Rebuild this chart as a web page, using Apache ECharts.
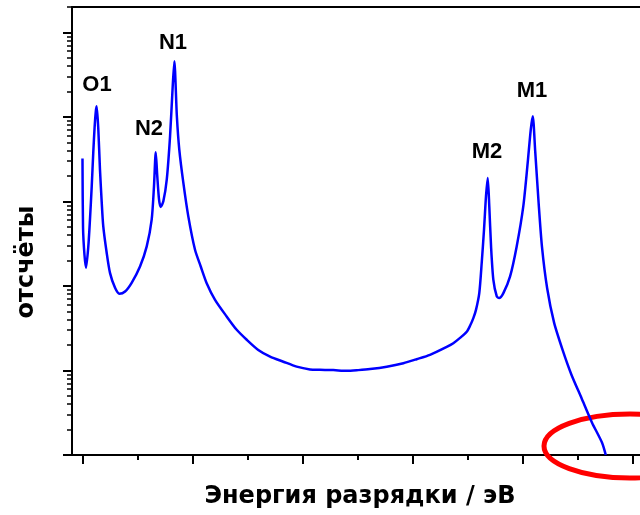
<!DOCTYPE html>
<html>
<head>
<meta charset="utf-8">
<script src="https://cdn.jsdelivr.net/npm/echarts@6/dist/echarts.min.js"></script>
<style>html,body{margin:0;padding:0;background:#fff}#c{width:640px;height:515px}</style>
</head>
<body>
<div id="c"></div>
<script>
// Energy (arbitrary units along the unlabelled axis)
var energy = [-0.02,0.03,0.16,0.30,0.51,0.66,0.82,0.96,1.08,1.19,1.27,1.42,1.57,1.73,1.87,2.18,2.48,2.94,3.33,3.85,4.45,5.21,5.82,6.27,6.48,6.64,6.78,6.94,7.09,7.33,7.64,7.94,8.15,8.33,8.56,8.78,9.15,9.60,10.21,10.73,11.27,12.03,13.09,14.0,14.91,15.96,17.03,18.24,19.45,20.66,21.57,22.78,24.0,25.05,26.12,27.64,29.15,30.36,31.57,33.09,33.69,34.30,34.91,35.21,35.51,35.75,36.05,36.27,36.48,36.66,36.82,36.96,37.12,37.33,37.64,37.85,38.24,38.85,39.45,40.05,40.45,40.73,40.91,41.13,41.44,41.75,42.22,42.85,43.63,44.41,45.35,46.29,47.22,47.55];
// Counts
var counts = [3215,489,234,164,294,609,1510,3786,7486,11590,13400,7096,2382,968,507,247,143,95,81,86,109,170,294,609,1510,3818,1983,1050,861,1003,1811,5902,19300,45700,10190,4110,1656,666,268,170,108,68.6,43.5,30.3,23.1,17.5,14.6,12.7,11.1,10.3,10.2,10.1,9.9,10.1,10.4,11.1,12.2,13.6,15.3,19.0,21.0,24.3,28.7,33.8,41.7,52.2,82.4,187,463,1149,1898,875,294,118,75.1,71.9,82.4,130,294,875,2858,7096,10190,4000,978,290,94,36.8,17.4,9.04,4.69,2.43,1.39,1.0];
// Tick positions
var xMajorTicks = [0,10,20,30,40,50];
var xMinorTicks = [5,15,25,35,45];
var yDecades = [0,1,2,3,4,5];
var yMinorMult = [2,3,4,5,6,7,8,9];
// Peak labels
var peakNames = ['O1','N2','N1','M2','M1'];

var yMax = 2e5, yLogMax = Math.log10(yMax);
var yMinorTicks = [];
yDecades.forEach(function(d){ yMinorMult.forEach(function(m){ var v = d + Math.log10(m); if (v <= yLogMax + 1e-9) yMinorTicks.push(v); }); });

var data = energy.map(function(e,i){ return [e, counts[i]]; });

var chart = echarts.init(document.getElementById('c'), null, {renderer:'canvas'});
var black = '#000';
var xMin = -0.973, xMax = 50.66;
function xAx(pos, line, ticks, len){
  return {type:'value', min:xMin, max:xMax, position:pos,
    axisLine:{show:line, onZero:false, lineStyle:{color:black, width:2}},
    axisTick:{show:!!ticks, customValues:ticks || undefined, length:len, lineStyle:{color:black, width:2}},
    axisLabel:{show:false}, splitLine:{show:false}};
}
function yAx(ticks, len, w){
  return {type:'value', min:0, max:yLogMax, position:'left',
    axisLine:{show:false, onZero:false},
    axisTick:{show:true, customValues:ticks, length:len, lineStyle:{color:black, width:w}},
    axisLabel:{show:false}, splitLine:{show:false}};
}
chart.setOption({
  animation: false,
  grid: {left:72, right:0, top:7, bottom:60, containLabel:false},
  xAxis: [ xAx('bottom', true, xMajorTicks, 9), xAx('bottom', false, xMinorTicks, 5), xAx('top', true, null, 0) ],
  yAxis: [
    {type:'log', logBase:10, min:1, max:yMax, position:'left',
     axisLine:{show:true, onZero:false, lineStyle:{color:black, width:2}},
     axisTick:{show:false}, axisLabel:{show:false}, splitLine:{show:false}, minorTick:{show:false}},
    yAx(yDecades, 9, 2),
    yAx(yMinorTicks, 5, 1.5)
  ],
  series: [{
    type:'line', xAxisIndex:0, yAxisIndex:0, data:data,
    showSymbol:false, symbol:'none', smooth:0.25,
    lineStyle:{color:'#0000ff', width:2.5}, z:3
  }],
  graphic: [
    {type:'ellipse', z:1, shape:{cx:630, cy:446, rx:86, ry:32}, style:{fill:null, stroke:'#ff0000', lineWidth:5}},
    {type:'text', z:5, x:97, y:85, style:{text:peakNames[0], font:'bold 22px "Liberation Sans", Arial, sans-serif', fill:'#000', align:'center', verticalAlign:'middle'}},
    {type:'text', z:5, x:149, y:129, style:{text:peakNames[1], font:'bold 22px "Liberation Sans", Arial, sans-serif', fill:'#000', align:'center', verticalAlign:'middle'}},
    {type:'text', z:5, x:173, y:43, style:{text:peakNames[2], font:'bold 22px "Liberation Sans", Arial, sans-serif', fill:'#000', align:'center', verticalAlign:'middle'}},
    {type:'text', z:5, x:487, y:152, style:{text:peakNames[3], font:'bold 22px "Liberation Sans", Arial, sans-serif', fill:'#000', align:'center', verticalAlign:'middle'}},
    {type:'text', z:5, x:532, y:91, style:{text:peakNames[4], font:'bold 22px "Liberation Sans", Arial, sans-serif', fill:'#000', align:'center', verticalAlign:'middle'}},
    {type:'text', z:5, x:360, y:497, style:{text:'Энергия разрядки / эВ', font:'bold 24px "DejaVu Sans", Verdana, sans-serif', fill:'#000', align:'center', verticalAlign:'middle'}},
    {type:'text', z:5, x:27, y:262, rotation:Math.PI/2, style:{text:'отсчёты', font:'bold 24px "DejaVu Sans", Verdana, sans-serif', fill:'#000', align:'center', verticalAlign:'middle'}}
  ]
});
</script>
</body>
</html>
